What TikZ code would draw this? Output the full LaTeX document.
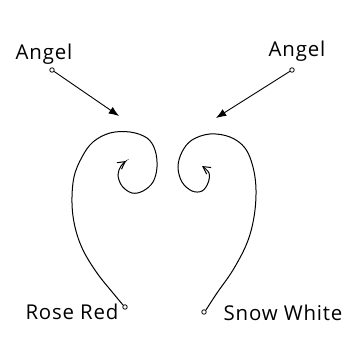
\documentclass[tikz,border=0pt]{standalone}
\usepackage{fontspec}
\setmainfont{Open Sans}[LetterSpace=4]
\usepackage{tikz}
\usetikzlibrary{arrows.meta}

\tikzset{
	endpt/.style={draw, circle, fill=white, inner sep=0pt, minimum size=4.5bp, line width=0.8bp},
	spiral/.style={line width=1bp, smooth, tension=0.6},
}

\begin{document}
\begin{tikzpicture}[x=1bp, y=1bp, every node/.style={font=\fontsize{20.5}{22}\selectfont}, >={Latex[length=3.6mm, width=2.8mm]}]
	\useasboundingbox (0,0) rectangle (349,348);
	% labels
	\node (angelL) at (44,294) {Angel};
	\node (angelR) at (297,297) {Angel};
	\node (rose) at (72,36) {Rose Red};
	\node (snow) at (283,35) {Snow White};
	% ends of the curves
	\node[endpt] (dotL) at (52,278) {};
	\node[endpt] (dotR) at (292,278) {};
	\node[endpt] (baseL) at (125,41) {};
	\node[endpt] (baseR) at (204,36) {};
	\coordinate (tipL) at (119,232);
	\coordinate (tipR) at (216,230);
	% angel arrows
	\draw[->, line width=0.9bp] (dotL) -- (tipL);
	\draw[->, line width=0.9bp] (dotR) -- (tipR);
	% the two spirals
	\draw[spiral, -{Straight Barb[length=2.6mm, width=2.8mm]}] plot coordinates {
		(baseL.north west) (113,55) (97,75) (83,98) (75,121) (72,145) (74,171) (82,191)
		(93,206) (110,215) (130,216) (147,210) (155,198) (157,181) (153,166)
		(143,157) (132,155) (122,162) (118,173) (121,182) (126,187)};
	\draw[spiral, -{Straight Barb[length=2.6mm, width=2.8mm]}] plot coordinates {
		(baseR.north east) (217,55) (233,78) (247,105) (254,131) (256,158) (253,181)
		(245,200) (230,211) (210,214) (192,208) (182,196) (178,181) (182,166)
		(192,157) (202,157) (208,165) (209,175) (202,182)};
\end{tikzpicture}
\end{document}
